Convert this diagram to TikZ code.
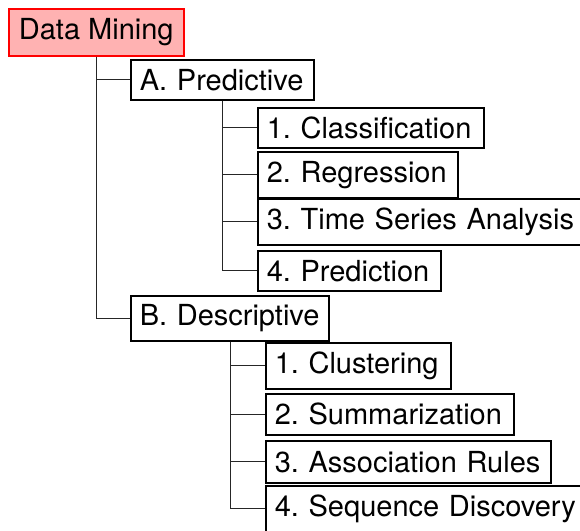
\documentclass[tikz,border=0pt]{standalone}
\usepackage{fontspec}
\setmainfont{TeX Gyre Heros}
\usetikzlibrary{calc}
\frenchspacing
\tikzset{
  item/.style={draw=black, line width=1.5pt, fill=white, anchor=north west,
    inner xsep=9pt, inner ysep=0pt, align=left,
    font=\fontsize{29}{32}\selectfont},
  rootbox/.style={item, draw=red, fill=red!30, inner xsep=0pt, align=center},
  link/.style={draw=black!85, line width=1pt}
}
\newcommand{\bx}[7]{% style, name, left, top, width, height, text
  \node[#1, text width={#5pt-18pt}, minimum height=#6pt] (#2) at (#3,#4) {\mbox{#7}};}
\begin{document}
\begin{tikzpicture}[x=1pt,y=-1pt]
  \useasboundingbox (0,0) rectangle (580,530);
  \clip (0,0) rectangle (580,530);
  % root
  \node[rootbox, minimum width=175pt, minimum height=47pt] (dm) at (8,8) {Data Mining};
  % first level
  \bx{item}{pred}{130}{59}{183}{40}{A. Predictive}
  \bx{item}{desc}{130}{295}{198}{45}{B. Descriptive}
  % predictive tasks
  \bx{item}{cls}{257}{107}{226}{40}{1. Classification}
  \bx{item}{reg}{257}{151}{200}{46}{2. Regression}
  \bx{item}{tsa}{257}{198}{340}{46}{3. Time Series Analysis}
  \bx{item}{prd}{257}{250}{183}{40}{4. Prediction}
  % descriptive tasks
  \bx{item}{clu}{265}{342}{185}{46}{1. Clustering}
  \bx{item}{sum}{265}{393}{248}{41}{2. Summarization}
  \bx{item}{asr}{265}{440}{285}{42}{3. Association Rules}
  \bx{item}{seq}{265}{485}{340}{46}{4. Sequence Discovery}
  % tree connectors
  \path[link] ($(dm.south west)+(88,0)$) |- (pred.west);
  \path[link] ($(dm.south west)+(88,0)$) |- (desc.west);
  \foreach \n in {cls,reg,tsa,prd}
    \path[link] ($(pred.south west)+(92,0)$) |- (\n.west);
  \foreach \n in {clu,sum,asr,seq}
    \path[link] ($(desc.south west)+(100,0)$) |- (\n.west);
\end{tikzpicture}
\end{document}
